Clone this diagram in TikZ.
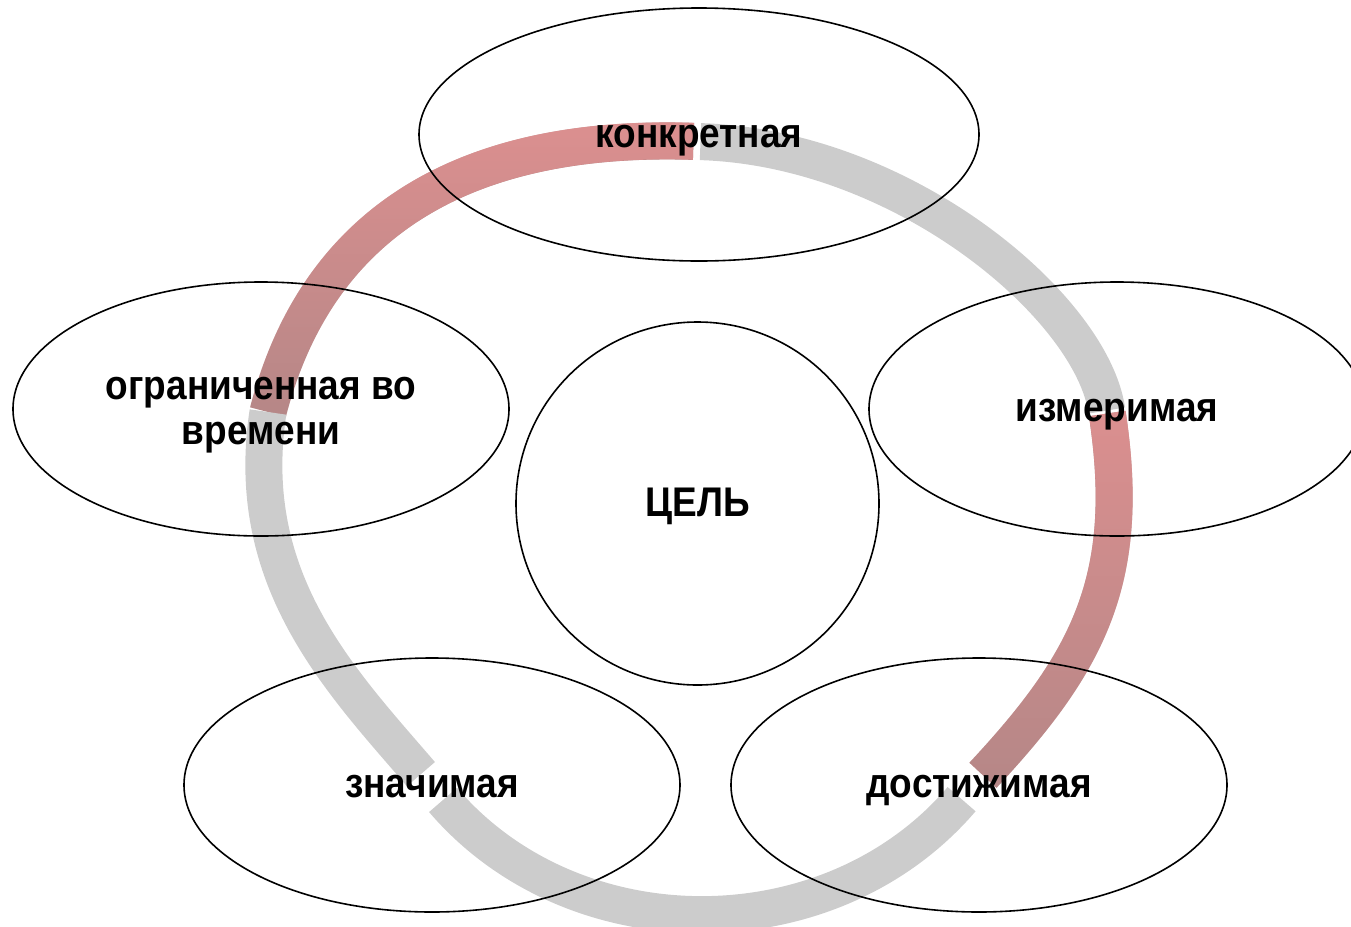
\documentclass[tikz,border=0pt]{standalone}
\usepackage{fontspec}
\setmainfont{Liberation Sans}
\usetikzlibrary{shapes.geometric}
\usetikzlibrary{fadings}
\definecolor{ringgray}{RGB}{204,204,204}
\definecolor{ringlight}{RGB}{226,145,145}
\definecolor{ringdark}{RGB}{175,134,134}
\pgfdeclarelayer{back}
\pgfsetlayers{back,main}
\def\vs#1{\scalebox{1}[1.12]{#1}}
\def\tstrut{\rule[-3.45pt]{0pt}{20.6pt}}

\begin{document}
\begin{tikzpicture}[x=0.5pt,y=-0.5pt,
  oval/.style={draw,black,ellipse,line width=0.8pt,inner sep=0pt,
    minimum width=248pt,minimum height=127pt,align=center,
    text height=16.65pt,text depth=3.95pt,
    font=\bfseries\fontsize{18.5}{20}\selectfont},
  band/.style={line width=18.5pt},
  grayband/.style={band,ringgray},
  redband/.style={band,ringdark},
  redtop/.style={band,ringlight,path fading=south,fading transform={yscale=1.25}}]
\useasboundingbox (0,0) rectangle (1351,927);

\node [oval, minimum width=280pt, minimum height=126.5pt, name=konk] at (699,134.5) {\vs{конкретная}};
\node [oval, name=izm]   at (1117,409) {\vs{измеримая}};
\node [oval, name=dost]  at (979,785)  {\vs{достижимая}};
\node [oval, name=znach] at (432,785)  {\vs{значимая}};
\node [oval, text height={}, text depth={}, name=ogr] at (261,409) {\tstrut\vs{ограниченная во}\\\vs{времени}\tstrut};
\node [oval, circle, minimum size=181.5pt, name=cel] at (697.5,503.5) {\vs{ЦЕЛЬ}};

\begin{pgfonlayer}{back}
% ogr -> konk
\draw [redband, shorten >=1.75pt] ([shift={(7,3)}]ogr.center) .. controls (310.5,247) and (434,133) .. ([shift={(-2,7)}]konk.center);
\draw [redtop, shorten >=1.75pt] ([shift={(7,3)}]ogr.center) .. controls (310.5,247) and (434,133) .. ([shift={(-2,7)}]konk.center);
% konk -> izm
\draw [grayband, shorten <=1.75pt, shorten >=0.75pt] ([shift={(-2,7)}]konk.center) .. controls (905,148) and (1092,308) .. ([shift={(-10,3)}]izm.center);
% izm -> dost
\draw [redband, shorten <=0.75pt, shorten >=8pt] ([shift={(-10,3)}]izm.center) .. controls (1132.5,580) and (1087.6,663) .. ([shift={(-7,2)}]dost.center);
\draw [redtop, shorten <=0.75pt, shorten >=8pt] ([shift={(-10,3)}]izm.center) .. controls (1132.5,580) and (1087.6,663) .. ([shift={(-7,2)}]dost.center);
% dost -> znach
\draw [grayband, shorten <=8pt, shorten >=8.5pt] ([shift={(-7,2)}]dost.center) .. controls (830,953) and (574,953) .. ([shift={(0,2)}]znach.center);
% znach -> ogr
\draw [grayband, shorten <=8.5pt] ([shift={(0,2)}]znach.center) .. controls (340,680) and (242.5,580) .. ([shift={(7,3)}]ogr.center);
\end{pgfonlayer}
\end{tikzpicture}
\end{document}
